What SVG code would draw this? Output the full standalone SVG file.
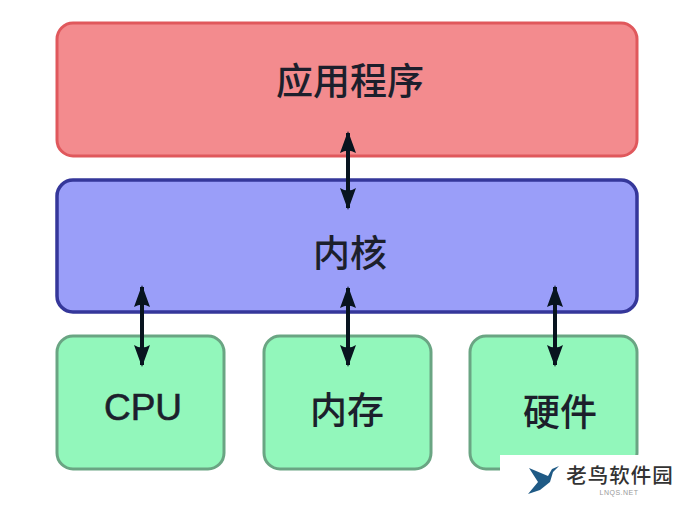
<svg xmlns="http://www.w3.org/2000/svg" width="700" height="505" viewBox="0 0 700 505">
<style>
.t{font-family:"Liberation Sans","Noto Sans CJK SC",sans-serif;font-size:37px;font-weight:500;fill:#1c1f2c;text-anchor:middle}
.z{font-family:"Noto Sans CJK SC","Liberation Sans",sans-serif}
.g{fill:#92f7bb;stroke:#6aa583;stroke-width:3}
.c line{stroke:#08141f;stroke-width:4}
</style>
<defs>
<marker id="a" viewBox="0 0 22 16" refX="20" refY="8" markerWidth="22" markerHeight="16" markerUnits="userSpaceOnUse" orient="auto-start-reverse"><path d="M22 8L0 0Q5 8 0 16Z" fill="#08141f"/></marker>
</defs>
<rect width="700" height="505" fill="#fff"/>
<g id="app"><rect x="57" y="23" width="580" height="133" rx="16" fill="#f38b8e" stroke="#e0585c" stroke-width="3"/><text class="t z" x="350" y="95">应用程序</text></g>
<g id="kernel"><rect x="57" y="180" width="580" height="132" rx="16" fill="#9a9ef9" stroke="#35379a" stroke-width="3.5"/><text class="t z" x="350" y="267">内核</text></g>
<g id="cpu"><rect class="g" x="57" y="336" width="167" height="133" rx="16"/><text class="t" x="143" y="420" style="font-family:'Liberation Sans',sans-serif;stroke:#1c1f2c;stroke-width:.6">CPU</text></g>
<g id="mem"><rect class="g" x="264" y="336" width="167" height="133" rx="16"/><text class="t z" x="347" y="424">内存</text></g>
<g id="hw"><rect class="g" x="470" y="336" width="167" height="133" rx="16"/><text class="t z" x="560" y="426">硬件</text></g>
<g class="c" id="connectors">
<line x1="348" y1="133" x2="348" y2="208" marker-start="url(#a)" marker-end="url(#a)"/>
<line x1="142" y1="287" x2="142" y2="365" marker-start="url(#a)" marker-end="url(#a)"/>
<line x1="348" y1="288" x2="348" y2="365" marker-start="url(#a)" marker-end="url(#a)"/>
<line x1="555" y1="287" x2="555" y2="365" marker-start="url(#a)" marker-end="url(#a)"/>
</g>
<g id="watermark">
<rect x="500" y="455" width="200" height="50" fill="#fff"/>
<path d="M529 468L548 476L552 469L559 466L553 472L550 482L540 490L528 494L538 482Z" fill="#1f5a85"/>
<text class="z" x="620" y="483" text-anchor="middle" style="font-size:20.5px;font-weight:500;letter-spacing:1px;fill:#333">老鸟软件园</text>
<text x="619" y="495" text-anchor="middle" style="font-family:'Liberation Sans',sans-serif;font-size:7px;letter-spacing:.5px;fill:#999">LNQS.NET</text>
</g>
</svg>
